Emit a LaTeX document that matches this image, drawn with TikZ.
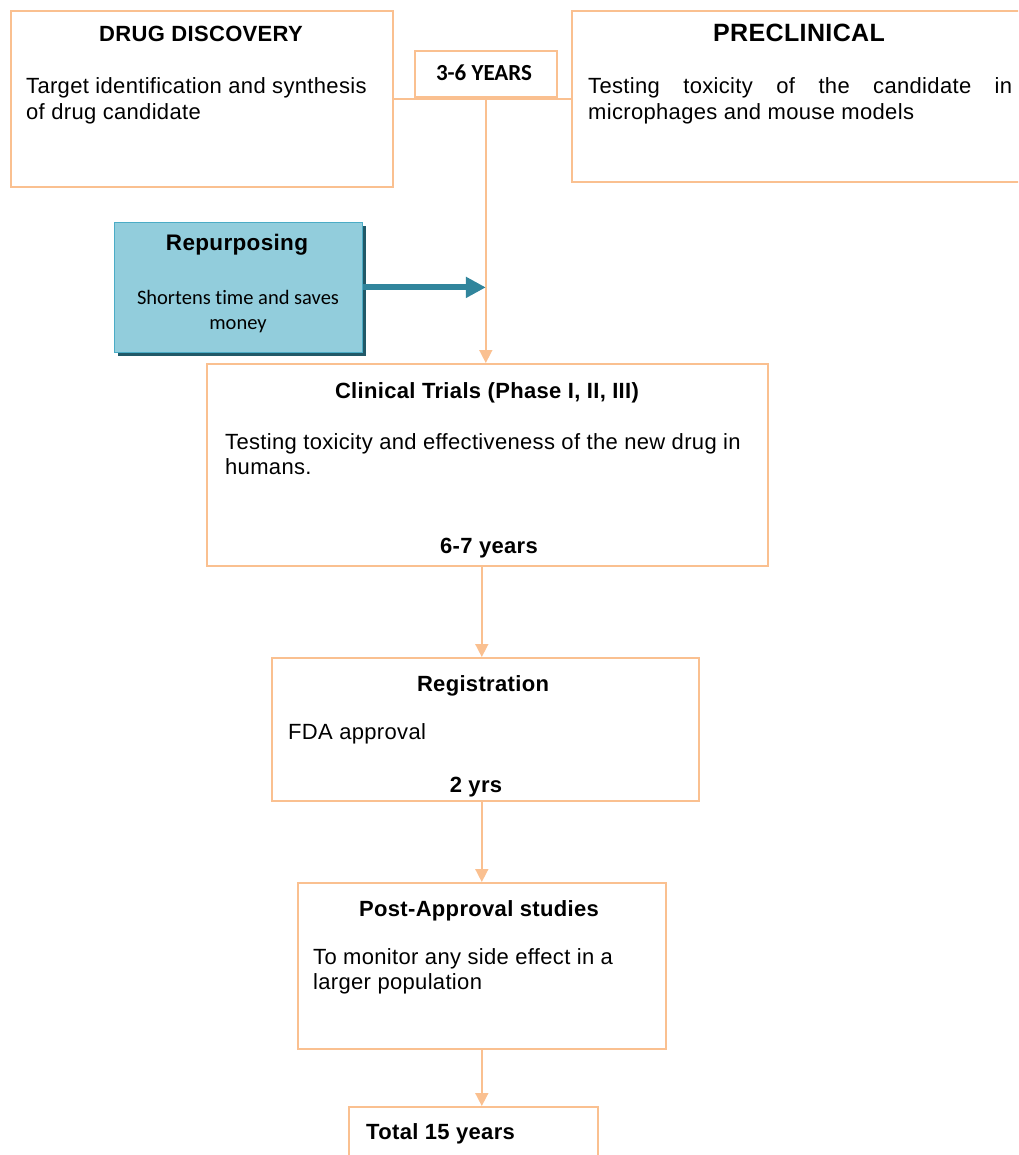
\documentclass[tikz,border=0pt]{standalone}
\usepackage{fontspec}
\setmainfont[LetterSpace=1.5]{Liberation Sans}
\newfontfamily\calib[Ligatures=NoCommon]{Carlito}
\usetikzlibrary{arrows.meta,calc,shadows}
\definecolor{boxor}{HTML}{FAC090}
\definecolor{rpfill}{HTML}{92CDDC}
\definecolor{rpline}{HTML}{4BACC6}
\definecolor{rpshadow}{HTML}{215968}
\definecolor{rparrow}{HTML}{31859C}
\begin{document}
\begin{tikzpicture}[x=1pt,y=-1pt,
  box/.style={draw=boxor,line width=1.6pt,inner sep=0pt,anchor=north west},
  conn/.style={draw=boxor,line width=1.6pt},
  arr/.style={conn,-{Triangle[length=13pt,width=13pt]},boxor},
  ttl/.style={font=\fontsize{22}{26}\selectfont\bfseries,anchor=base,inner sep=0pt},
  body/.style={font=\fontsize{22}{26}\selectfont,anchor=base west,inner sep=0pt},
  rpbody/.style={anchor=base,inner sep=0pt,font=\calib\fontsize{20.5}{26}\selectfont},
]
\useasboundingbox (0,0) rectangle (1018,1155);
\clip (0,0) rectangle (1018,1155);

% boxes
\node[box,minimum width=382pt,minimum height=176pt] (dd) at (10,10) {};
\node[box,minimum width=142pt,minimum height=46pt] (yrs) at (414,50) {};
\node[box,minimum width=460pt,minimum height=171pt] (pre) at (571,10) {};
\node[box,minimum width=561pt,minimum height=202pt] (ct) at (206,363) {};
\node[box,minimum width=427pt,minimum height=143pt] (rg) at (271,657) {};
\node[box,minimum width=368pt,minimum height=166pt] (pa) at (297,882) {};
\node[box,minimum width=249pt,minimum height=70pt] (tot) at (348,1106) {};
\node[anchor=north west,fill=rpfill,draw=rpline,line width=0.8pt,inner sep=0pt,
      minimum width=248pt,minimum height=130pt,
      drop shadow={shadow xshift=4pt,shadow yshift=-4pt,fill=rpshadow,opacity=1}] (rp) at (114,222) {};

% texts
\node[ttl] (ddt) at (201,42) {DRUG DISCOVERY};
\node[body] (dd1) at (26,94) {Target identification and synthesis};
\node[body] (dd2) at (26,120) {of drug candidate};

\node[anchor=base,inner sep=0pt,font=\calib\fontsize{23}{26}\selectfont\bfseries] (yrst) at (484,81) {3-6 YEARS};

\node[ttl,font=\fontsize{25}{28}\selectfont\bfseries] (pret) at (799,42) {PRECLINICAL};
\node[body] (pre1) at (588,94) {\makebox[424pt][s]{Testing toxicity of the candidate in}};
\node[body] (pre2) at (588,120) {microphages and mouse models};

\node[ttl,font=\fontsize{22.5}{26}\selectfont\bfseries] (rpt) at (237,251) {Repurposing};
\node[rpbody] (rp1) at (238,304) {Shortens time and saves};
\node[rpbody] (rp2) at (238,329) {money};

\node[ttl] (ctt) at (487,398) {Clinical Trials (Phase I, II, III)};
\node[body] (ct1) at (225,449) {Testing toxicity and effectiveness of the new drug in};
\node[body] (ct2) at (225,474) {humans.};
\node[ttl] (ct3) at (489,553) {6-7 years};

\node[ttl] (rgt) at (483,691) {Registration};
\node[body] (rg1) at (288,739) {FDA approval};
\node[ttl] (rg2) at (476,792) {2 yrs};

\node[ttl] (pat) at (479,916) {Post-Approval studies};
\node[body] (pa1) at (313,964) {To monitor any side effect in a};
\node[body] (pa2) at (313,989) {larger population};

\node[ttl,anchor=base west] (tott) at (366,1139) {Total 15 years};

% connectors
\coordinate (j) at (yrs.south |- dd.east);
\draw[conn] (dd.east) -- (dd.east -| pre.west);
\draw[arr] (j) -- (j |- ct.north);
\draw[line width=6pt,rparrow,-{Triangle[length=20pt,width=20pt]}] (rp.east) -- (rp.east -| j);
\draw[arr] (pa.north |- ct.south) -- (pa.north |- rg.north);
\draw[arr] (pa.north |- rg.south) -- (pa.north);
\draw[arr] (pa.south) -- (pa.south |- tot.north);
\end{tikzpicture}
\end{document}
